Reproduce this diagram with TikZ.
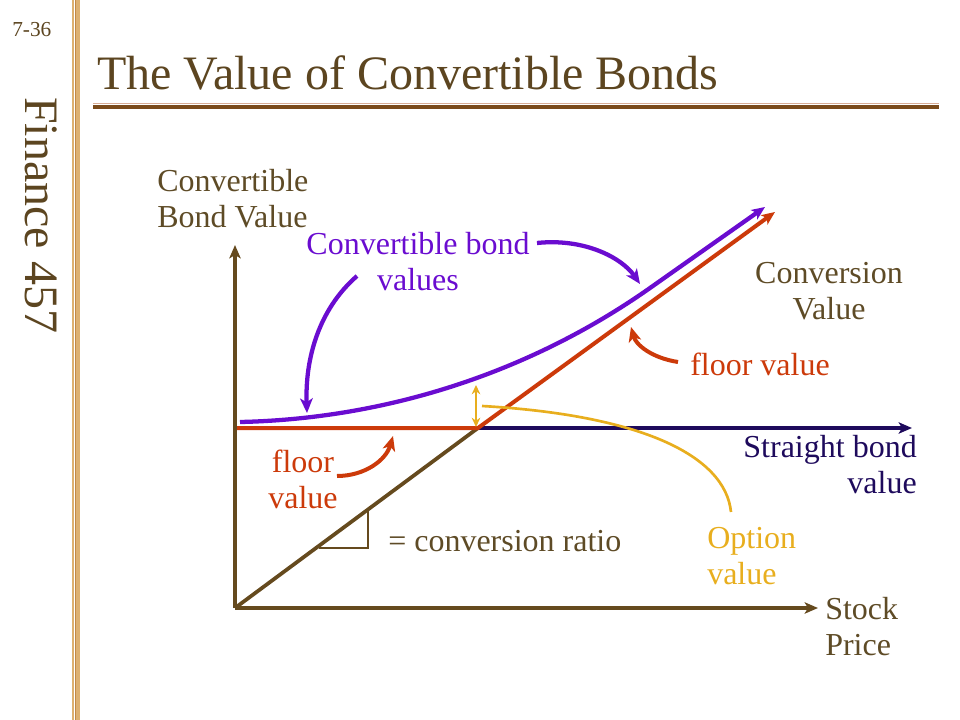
\documentclass[tikz,border=0pt]{standalone}
\usepackage{fontspec}
\setmainfont{Liberation Serif}
\usetikzlibrary{arrows.meta}
\definecolor{brn}{HTML}{5E4B26}
\definecolor{axbrn}{HTML}{654A1E}
\definecolor{titlebrn}{HTML}{5C4520}
\definecolor{rulebrn}{HTML}{7A4A1A}
\definecolor{rulelt}{HTML}{D8AC96}
\definecolor{sidetan}{HTML}{DDB070}
\definecolor{sidedk}{HTML}{C08848}
\definecolor{pur}{HTML}{6A0CD0}
\definecolor{rd}{HTML}{CC3A0A}
\definecolor{nvy}{HTML}{1E0A5C}
\definecolor{ylw}{HTML}{E8AE1E}
\tikzset{
  lbl/.style={inner sep=0pt, font=\fontsize{24}{27}\selectfont},
  bighead/.style={-{Stealth[length=10pt,width=8.5pt,inset=2.5pt]}},
  annhead/.style={-{Stealth[length=11pt,width=9.5pt,inset=3pt]}},
  axisline/.style={axbrn, line width=3pt, bighead},
  purline/.style={pur, line width=3.2pt},
  redline/.style={rd, line width=3pt},
  ydbl/.style={{Stealth[length=7pt,width=6.5pt]}-{Stealth[length=7pt,width=6.5pt]}},
}
\begin{document}
\begin{tikzpicture}[x=0.75pt,y=-0.75pt]
\useasboundingbox (0,0) rectangle (960,720);
% sidebar
\fill[sidetan] (72,0) rectangle (79.5,720);
\fill[white] (74,0) rectangle (75,720);
\fill[sidedk] (75,0) rectangle (76.4,720);
\node[inner sep=0pt, anchor=base west, font=\fontsize{16}{18}\selectfont, text=titlebrn] (pg) at (12,37) {7-36};
\node[inner sep=0pt, anchor=base west, rotate=-90, font=\fontsize{36}{40}\selectfont, text=titlebrn] (fin) at (25,97) {Finance 457};
% title
\node[inner sep=0pt, anchor=base west, font=\fontsize{36}{40}\selectfont, text=titlebrn] (title) at (97,90) {The Value of Convertible Bonds};
\coordinate (rl1) at (93,103.5);
\coordinate (rr1) at (939,103.5);
\coordinate (rl2) at (93,107);
\coordinate (rr2) at (939,107);
\draw[rulelt, line width=1.2pt] (rl1) -- (rr1);
\draw[rulebrn, line width=2.4pt] (rl2) -- (rr2);
% key points
\coordinate (O) at (235,608);
\coordinate (Ytop) at (235,245);
\coordinate (Xend) at (818,608);
\coordinate (S0) at (235,428);
\coordinate (Send) at (912,428);
\coordinate (K) at (478,428);
\coordinate (Fend) at (775,212);
% straight bond line
\draw[nvy, line width=2.6pt, bighead] (S0) -- (Send);
% stock value diagonal
\draw[axbrn, line width=2.8pt] (O) -- (K);
% floor
\draw[redline, bighead] (237,428) -- (K) -- (Fend);
% axes
\draw[axisline] (O) -- (Ytop);
\draw[axisline] (O) -- (Xend);
% convertible bond value curve
\coordinate (cb0) at (240,422);
\coordinate (cb1) at (650,288);
\coordinate (cbend) at (765,207);
\draw[purline, bighead] (cb0) .. controls (380,419) and (525,376) .. (cb1) -- (cbend);
% option value double arrow
\coordinate (oa1) at (476,385);
\coordinate (oa2) at (476,427);
\draw[ylw, line width=1.5pt, ydbl] (oa1) -- (oa2);
% conversion ratio triangle
\coordinate (t1) at (319,548);
\coordinate (t2) at (368,548);
\coordinate (t3) at (368,510);
\draw[axbrn, line width=0.8pt] (t1) -- (t2) -- (t3);
% labels
\node[lbl, text=brn, align=left, anchor=north west] (ylab) at (157,169) {Convertible\\Bond Value};
\node[lbl, text=pur, align=center, anchor=north] (cbv) at (418,232) {Convertible bond\\values};
\node[lbl, text=brn, align=center, anchor=north] (convv) at (829,262) {Conversion\\Value};
\node[lbl, text=rd, anchor=base west] (floorR) at (690,375) {floor value};
\node[lbl, text=nvy, align=right, anchor=north east] (sbv) at (917,435) {Straight bond\\value};
\node[lbl, text=rd, align=center, anchor=north] (floorL) at (303,450) {floor\\value};
\node[lbl, text=brn, anchor=base west] (ratio) at (388,551) {= conversion ratio};
\node[lbl, text=ylw, align=left, anchor=north west] (optv) at (707,527) {Option\\value};
\node[lbl, text=brn, align=left, anchor=north west] (stock) at (825,597) {Stock\\Price};
% annotation arrows
\coordinate (pa1s) at (357,276);
\coordinate (pa1e) at (307,413);
\coordinate (pa2s) at (537,243);
\coordinate (pa2e) at (640,284);
\coordinate (ra1s) at (678,362);
\coordinate (ra1e) at (631,327);
\coordinate (ra2s) at (337,476);
\coordinate (ra2e) at (393,436);
\coordinate (ycs) at (482,406);
\coordinate (yce) at (731,512);
\draw[purline, annhead] (pa1s) .. controls (318,310) and (305,360) .. (pa1e);
\draw[purline, annhead] (pa2s) .. controls (585,238) and (622,258) .. (pa2e);
\draw[redline, annhead] (ra1s) .. controls (652,358) and (636,345) .. (ra1e);
\draw[redline, annhead] (ra2s) .. controls (365,476) and (386,460) .. (ra2e);
\draw[ylw, line width=2pt] (ycs) .. controls (640,415) and (725,455) .. (yce);
\end{tikzpicture}
\end{document}
